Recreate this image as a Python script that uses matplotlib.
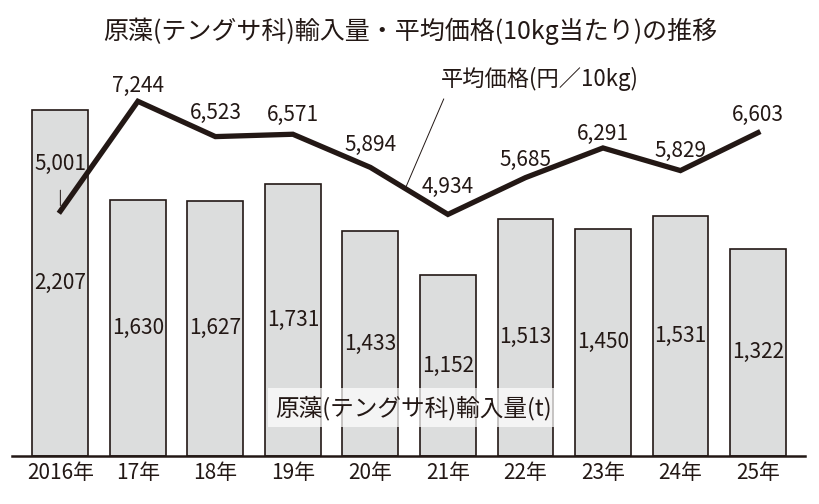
import matplotlib.pyplot as plt
import numpy as np

plt.rcParams['font.family'] = ['Noto Sans CJK JP', 'DejaVu Sans']

# データ
years = ['2016年', '17年', '18年', '19年', '20年', '21年', '22年', '23年', '24年', '25年']
imports_t = [2207, 1630, 1627, 1731, 1433, 1152, 1513, 1450, 1531, 1322]
price_10kg = [5001, 7244, 6523, 6571, 5894, 4934, 5685, 6291, 5829, 6603]

# 価格ラベルの点からの高さ(pt)
label_off = [34, 11, 17, 14, 16, 20, 13, 10, 14, 13]

fig = plt.figure(figsize=(8.2, 5.04), dpi=100)
ax = fig.add_axes([0.015, 0.0952, 0.967, 0.79])
x = np.arange(len(years))

# 輸入量(棒)
ax.bar(x, imports_t, width=0.72, color='#dcdddd', edgecolor='#231815', linewidth=1.2, zorder=1)
for i, v in enumerate(imports_t):
    ax.text(i, v / 2, f'{v:,}', ha='center', va='center', fontsize=15,
            color='#231815', zorder=3)
ax.set_ylim(0, 2538)
ax.set_xlim(-0.62, 9.61)

ax.set_xticks(x)
ax.set_xticklabels(years, fontsize=15, color='#231815')
ax.tick_params(axis='x', length=0, pad=4)
ax.set_yticks([])
for s in ['left', 'right', 'top']:
    ax.spines[s].set_visible(False)
ax.spines['bottom'].set_linewidth(1.8)
ax.spines['bottom'].set_color('#231815')

ax.text(4.55, 308, '原藻(テングサ科)輸入量(t)', ha='center', va='center', fontsize=17,
        color='#231815', zorder=5,
        bbox=dict(boxstyle='square,pad=0.3', facecolor='white', edgecolor='none', alpha=0.7))

# 平均価格(折れ線)
ax2 = ax.twinx()
ax2.set_ylim(0, 8131)
ax2.plot(x, price_10kg, color='#231815', linewidth=3.8, solid_joinstyle='miter', zorder=4)
ax2.axis('off')
for i, v in enumerate(price_10kg):
    if i == 0:
        ax2.annotate(f'{v:,}', xy=(i, v), xytext=(0, label_off[i]), textcoords='offset points',
                     ha='center', va='center', fontsize=15, color='#231815',
                     arrowprops=dict(arrowstyle='-', color='#231815', lw=0.7,
                                     shrinkA=9, shrinkB=4))
    else:
        ax2.annotate(f'{v:,}', xy=(i, v), xytext=(0, label_off[i]), textcoords='offset points',
                     ha='center', va='center', fontsize=15, color='#231815')

# 凡例テキスト
t = 0.45
ax2.annotate('平均価格(円／10kg)', xy=(4 + t, price_10kg[4] + t * (price_10kg[5] - price_10kg[4])),
             xytext=(6.19, 7700), ha='center', va='center', fontsize=16, color='#231815',
             arrowprops=dict(arrowstyle='-', color='#231815', lw=0.7,
                             relpos=(0.03, 0.0), shrinkA=4, shrinkB=0))

fig.suptitle('原藻(テングサ科)輸入量・平均価格(10kg当たり)の推移', fontsize=18,
             y=0.965, color='#231815')

fig.savefig('out.png', dpi=100)
